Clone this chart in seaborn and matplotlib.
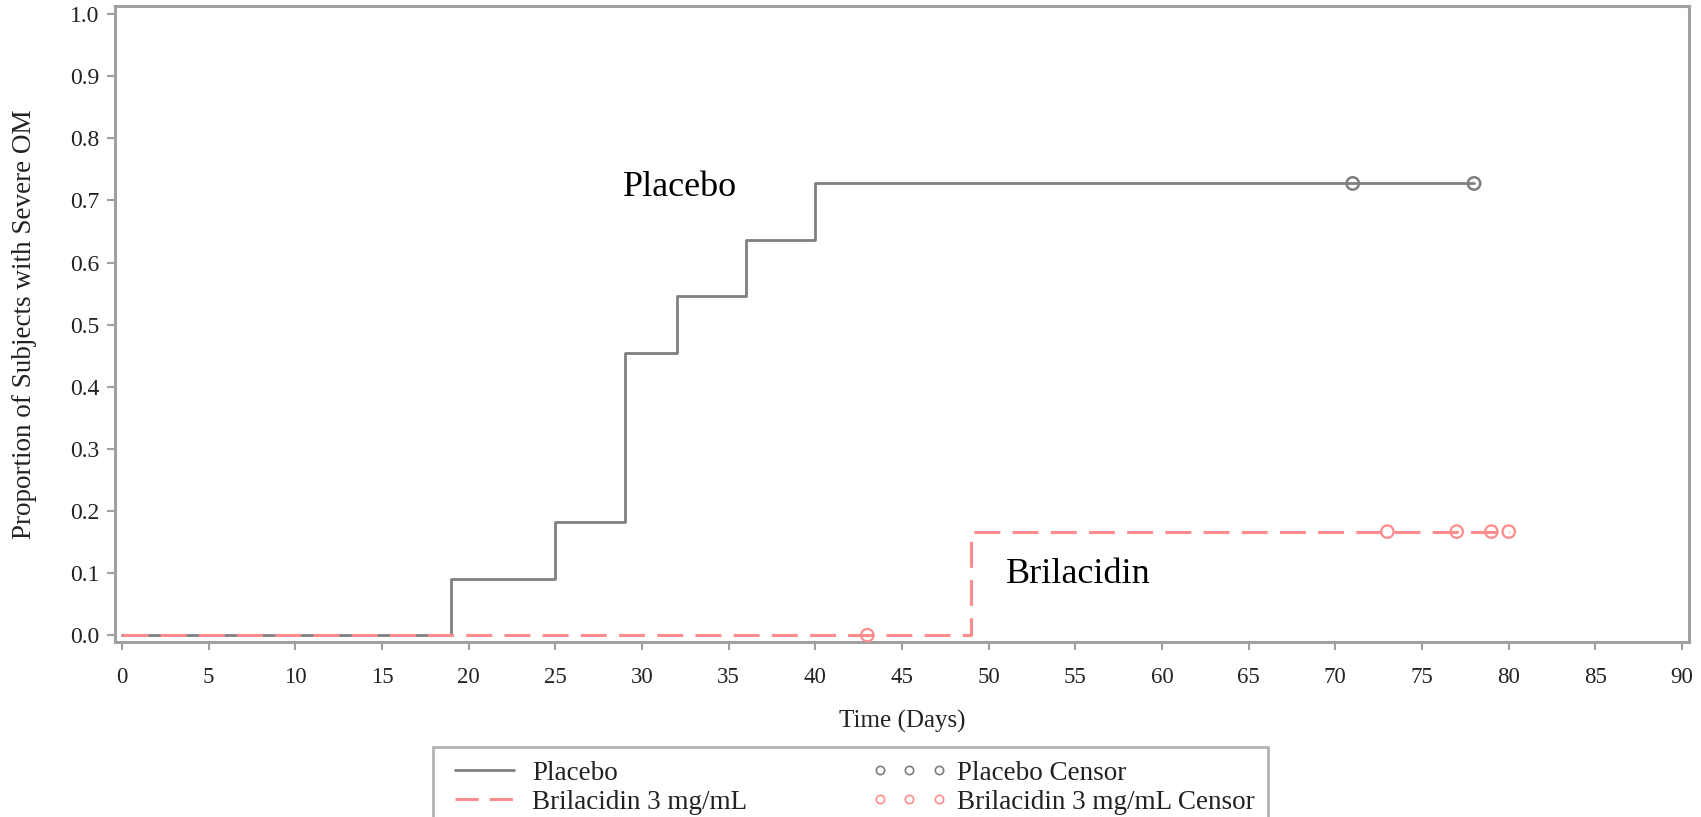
import matplotlib
matplotlib.use("Agg")
import matplotlib.pyplot as plt
import seaborn as sns
import pandas as pd
from matplotlib.lines import Line2D

# ---- data ----
placebo_time = [0, 19, 25, 29, 32, 36, 40, 78]
placebo_prop = [0.0, 0.0909, 0.1818, 0.4545, 0.5455, 0.6364, 0.7273, 0.7273]
placebo_censor_time = [71, 78]
placebo_censor_prop = [0.7273, 0.7273]

bril_time = [0, 49, 80]
bril_prop = [0.0, 0.1667, 0.1667]
bril_censor_time = [43, 73, 77, 79, 80]
bril_censor_prop = [0.0, 0.1667, 0.1667, 0.1667, 0.1667]

x_ticks = list(range(0, 95, 5))
y_ticks = [0.0, 0.1, 0.2, 0.3, 0.4, 0.5, 0.6, 0.7, 0.8, 0.9, 1.0]
y_tick_labels = ["0.0", "0.1", "0.2", "0.3", "0.4", "0.5", "0.6", "0.7", "0.8", "0.9", "1.0"]

gray = "#7f7f7f"
red = "#ff8c8c"
frame = "#a0a0a0"
txt = "#222222"

sns.set_theme(style="white")
plt.rcParams['font.family'] = ['Liberation Serif', 'DejaVu Serif']

fig = plt.figure(figsize=(17.01, 8.17), dpi=100)
ax = fig.add_axes([115/1701, 1-642/817, (1689-115)/1701, (642-6)/817])

df_p = pd.DataFrame({"t": placebo_time, "p": placebo_prop})
df_b = pd.DataFrame({"t": bril_time, "p": bril_prop})
sns.lineplot(data=df_p, x="t", y="p", ax=ax, color=gray, lw=2, estimator=None,
             drawstyle="steps-post", zorder=2)
sns.lineplot(data=df_b, x="t", y="p", ax=ax, color=red, lw=2.2, estimator=None,
             drawstyle="steps-post", linestyle=(0, (8.5, 4)), zorder=3)

sns.scatterplot(x=placebo_censor_time, y=placebo_censor_prop, ax=ax, marker="o",
                s=80, facecolor="none", edgecolor=gray, linewidth=1.8, zorder=4)
sns.scatterplot(x=bril_censor_time, y=bril_censor_prop, ax=ax, marker="o",
                s=80, facecolor="none", edgecolor=red, linewidth=1.6, zorder=4)

ax.set_xlim(-0.4, 90.4)
ax.set_ylim(-0.011, 1.013)
ax.set_xticks(x_ticks)
ax.set_xticklabels([str(v) for v in x_ticks], fontsize=16.5)
ax.set_yticks(y_ticks)
ax.set_yticklabels(y_tick_labels, fontsize=17)
ax.tick_params(axis="both", which="major", length=6, width=1.5, color=frame,
               direction="out", bottom=True, left=True, pad=5, labelcolor=txt)
ax.tick_params(axis="x", pad=12)
for sp in ax.spines.values():
    sp.set_color(frame)
    sp.set_linewidth(2.2)

ax.set_xlabel("Time (Days)", fontsize=18, labelpad=16, color=txt)
ax.set_ylabel("Proportion of Subjects with Severe OM", fontsize=19.5,
              labelpad=24, color=txt)
ax.legend_ = None

ax.text(28.9, 0.72, "Placebo", fontsize=26, va="center", ha="left", color="black")
ax.text(51.0, 0.097, "Brilacidin", fontsize=26, va="center", ha="left", color="black")

handles = [
    Line2D([], [], color=gray, lw=2),
    Line2D([], [], color=red, lw=2.2, linestyle=(0, (7.6, 3.6))),
    Line2D([], [], color=gray, ls="none", marker="o", mfc="none", mec=gray, ms=6, mew=1.2),
    Line2D([], [], color=red, ls="none", marker="o", mfc="none", mec=red, ms=6, mew=1.2),
]
labels = ["Placebo", "Brilacidin 3 mg/mL", "Placebo Censor", "Brilacidin 3 mg/mL Censor"]
leg = fig.legend(handles, labels, loc="upper left", ncol=2, numpoints=3,
                 bbox_to_anchor=(433/1701, 1-747/817),
                 frameon=True, fancybox=False, edgecolor=frame,
                 prop={"family": "Liberation Serif", "size": 19.5},
                 handlelength=2.8, borderpad=0.5, labelspacing=0.15, handletextpad=0.35,
                 columnspacing=4.6, borderaxespad=0)
leg.get_frame().set_linewidth(2)
for t in leg.get_texts():
    t.set_color(txt)

fig.savefig("out.png", dpi=100)
